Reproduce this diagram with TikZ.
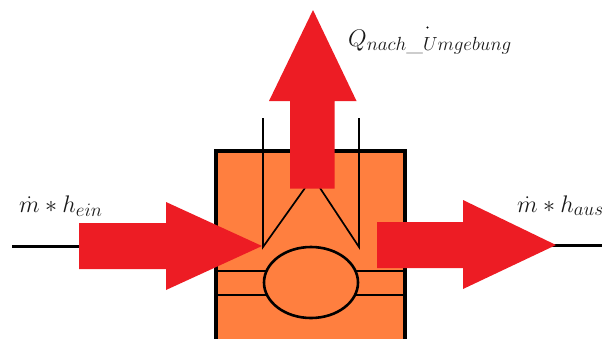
\documentclass[tikz,border=0pt]{standalone}
\usepackage{fix-cm}
\DeclareMathSizes{24}{24}{19}{14}
\usetikzlibrary{shapes.geometric}
\definecolor{redarrow}{HTML}{ED1C24}
\definecolor{orangefill}{HTML}{FF7F3F}
\tikzset{
  thinline/.style={black,line width=1.7pt},
  thickline/.style={black,line width=2.6pt},
  redshape/.style={fill=redarrow,draw=none},
  formula/.style={inner sep=0pt,anchor=base west,text=black!90,font=\fontsize{24}{28}\selectfont}
}
\begin{document}
\begin{tikzpicture}[x=1pt,y=-1pt]
\useasboundingbox (0,0) rectangle (602,338);
\begin{scope}
\clip (0,0) rectangle (602,338);
% housing
\fill[orangefill] (216,151) rectangle (405,345);
\draw[black,line width=3.8pt] (216,345) -- (216,151) -- (405,151) -- (405,345);
% valve / piston lines
\coordinate (vl) at (263,247);
\coordinate (vr) at (359,247);
\coordinate (vltop) at (263,118);
\coordinate (vrtop) at (359,118);
\coordinate (dl) at (305,188);
\coordinate (dr) at (320,188);
\draw[thinline] (vltop) -- (vl) -- (dl);
\draw[thinline] (vrtop) -- (vr) -- (dr);
% chamber and pipes
\coordinate (wl1) at (216,271);
\coordinate (wl2) at (216,295);
\coordinate (wr1) at (405,271);
\coordinate (wr2) at (405,295);
\coordinate (el1) at (290,271);
\coordinate (el2) at (290,295);
\coordinate (er1) at (332,271);
\coordinate (er2) at (332,295);
\draw[thickline] (wl1) -- (el1) (wl2) -- (el2) (wr1) -- (er1) (wr2) -- (er2);
\node[ellipse,draw=black,line width=2.6pt,fill=orangefill,inner sep=0pt,
      minimum width=94pt,minimum height=71pt] (chamber) at (311,282.5) {};
% outer lines
\coordinate (inS) at (12,246);
\coordinate (inE) at (85,246);
\coordinate (outS) at (550,245);
\coordinate (outE) at (602,245);
\draw[black,line width=3pt] (inS) -- (inE);
\draw[black,line width=3pt] (outS) -- (outE);
% red arrows
\fill[redshape] (290,188.5) -- (290,101) -- (269,101) -- (313,10) -- (356.5,101) -- (334.5,101) -- (334.5,188.5) -- cycle;
\fill[redshape] (79,223) -- (166,223) -- (166,202) -- (262,246) -- (166,290) -- (166,269) -- (79,269) -- cycle;
\fill[redshape] (377,222) -- (463,222) -- (463,200) -- (556,245) -- (463,289) -- (463,268) -- (377,268) -- cycle;
\end{scope}
% labels
\node[formula] (hein) at (19,212) {$\dot m * h_{ein}$};
\node[formula] (haus) at (517,212) {$\dot m * h_{aus}$};
\node[formula] (qout) at (348,46) {$Q_{nach\_Umgebung}$};
\fill[black] (427.5,27.5) circle (1.1pt);
\end{tikzpicture}
\end{document}
